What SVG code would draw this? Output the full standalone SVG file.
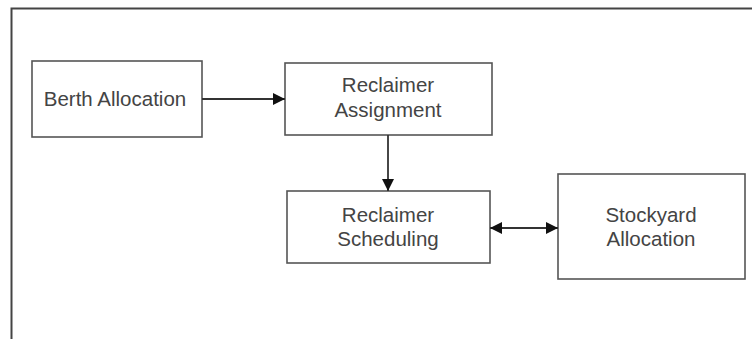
<svg xmlns="http://www.w3.org/2000/svg" width="752" height="339" viewBox="0 0 752 339">
<defs>
<style>
.box{fill:#fff;stroke:#555;stroke-width:1.6}
.lbl{font-family:"Liberation Sans",Arial,sans-serif;font-size:20.5px;fill:#444;text-anchor:middle}
.con{stroke:#333;stroke-width:1.8;fill:none}
</style>
<marker id="ah" viewBox="0 0 12 12" refX="12" refY="6" markerWidth="12" markerHeight="12" markerUnits="userSpaceOnUse" orient="auto-start-reverse">
<path d="M0,0 L12,6 L0,12 z" fill="#111"/>
</marker>
</defs>
<rect width="752" height="339" fill="#fff"/>
<path d="M11.5,339 V8.5 H752" fill="none" stroke="#444" stroke-width="2"/>
<g id="berth"><rect class="box" x="32" y="61" width="170" height="76"/><text class="lbl" x="115" y="106">Berth Allocation</text></g>
<g id="assign"><rect class="box" x="285" y="63" width="207" height="72"/><text class="lbl" x="388" y="92">Reclaimer</text><text class="lbl" x="388" y="117">Assignment</text></g>
<g id="sched"><rect class="box" x="287" y="191" width="203" height="72"/><text class="lbl" x="388" y="222">Reclaimer</text><text class="lbl" x="388" y="246">Scheduling</text></g>
<g id="stock"><rect class="box" x="558" y="174" width="187" height="105"/><text class="lbl" x="651" y="222">Stockyard</text><text class="lbl" x="651" y="246">Allocation</text></g>
<g id="connectors">
<line class="con" x1="202" y1="99" x2="285" y2="99" marker-end="url(#ah)"/>
<line class="con" x1="388" y1="135" x2="388" y2="191" marker-end="url(#ah)"/>
<line class="con" x1="490" y1="228" x2="558" y2="228" marker-start="url(#ah)" marker-end="url(#ah)"/>
</g>
</svg>
